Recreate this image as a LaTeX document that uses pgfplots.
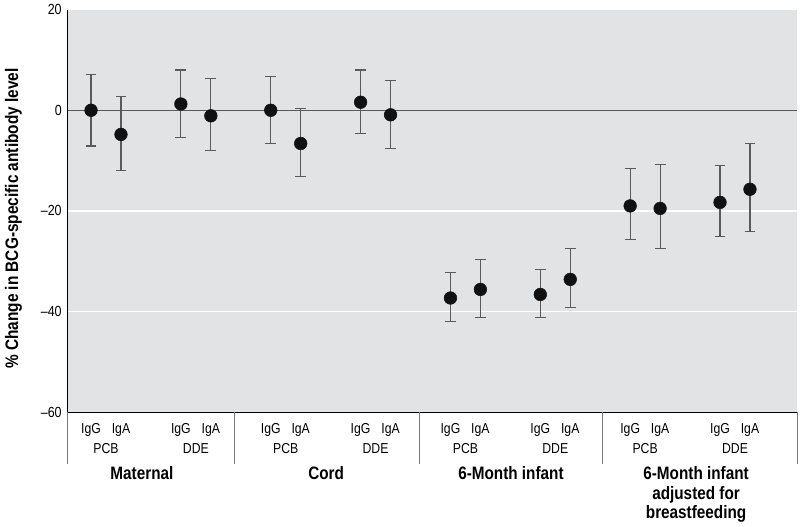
\documentclass[border=0pt]{standalone}
\usepackage{pgfplots}
\pgfplotsset{compat=1.18}
\usepackage{pgfplotstable}
\usepackage{fontspec}
\setmainfont{Liberation Sans}[FakeStretch=0.85]
\definecolor{bgcol}{HTML}{E2E3E5}
\definecolor{barcol}{HTML}{5A5A5A}
\definecolor{sepcol}{HTML}{7A7A7A}
\definecolor{dotcol}{HTML}{111111}

% x: position, y: % change, ep/em: upper and lower error
\pgfplotstableread{
x  y      ep   em
0  0.0    7.2  7.1
1  -4.8   7.6  7.2
3  1.25   6.75 6.65
4  -1.1   7.4  6.9
6  0.0    6.8  6.6
7  -6.6   7.0  6.6
9  1.6    6.4  6.2
10 -0.9   6.9  6.7
12 -37.3  5.1  4.6
13 -35.6  5.9  5.5
15 -36.6  5.0  4.6
16 -33.6  6.2  5.5
18 -19.0  7.4  6.7
19 -19.5  8.8  7.9
21 -18.3  7.3  6.7
22 -15.7  9.1  8.3
}\change

\begin{document}
\begin{tikzpicture}
\begin{axis}[
    scale only axis,
    width=547pt, height=302pt,
    xmin=-0.778, xmax=23.57,
    ymin=-60, ymax=20,
    axis background/.style={fill=bgcol},
    axis line style={draw=none},
    major tick length=0pt,
    ytick={-60,-40,-20,0,20},
    yticklabels={--60,--40,--20,0,20},
    yticklabel style={font=\fontsize{11}{12}\selectfont, xshift=-1pt},
    ymajorgrids=true,
    major grid style={white, line width=1.1pt},
    xtick={0,1,3,4,6,7,9,10,12,13,15,16,18,19,21,22},
    xticklabels={IgG,IgA,IgG,IgA,IgG,IgA,IgG,IgA,IgG,IgA,IgG,IgA,IgG,IgA,IgG,IgA},
    xticklabel style={font=\fontsize{10.8}{12}\selectfont, anchor=base, yshift=-15.75pt},
    ylabel={\% Change in BCG-specific antibody level},
    every axis y label/.style={at={(axis description cs:-0.0743,0.481)}, rotate=90, anchor=center, font=\bfseries\fontsize{13.6}{15}\selectfont},
    clip=false,
]
\draw[barcol, line width=0.8pt] (axis cs:-0.778,0) -- (axis cs:23.57,0);
\draw[black, line width=0.8pt] (rel axis cs:0,1) -- (rel axis cs:0,0) -- (rel axis cs:1,0);
\foreach \s in {-0.778,4.77,10.95,17.06,23.57}{
  \edef\tmp{\noexpand\draw[sepcol, line width=0.6pt] (axis cs:\s,-60) -- ([yshift=-39pt]axis cs:\s,-60);}
  \tmp
}
\addplot[only marks, mark=*, mark size=4.75pt, dotcol,
    error bars/.cd, y dir=both, y explicit,
    error bar style={barcol, line width=0.8pt},
    error mark options={barcol, rotate=90, mark size=4.1pt, line width=0.8pt}]
  table[x=x, y=y, y error plus=ep, y error minus=em] {\change};
\foreach \p/\t in {0.5/PCB,3.5/DDE,6.5/PCB,9.5/DDE,12.5/PCB,15.5/DDE,18.5/PCB,21.5/DDE}{
  \edef\tmp{\noexpand\node[anchor=base, font=\noexpand\fontsize{10.8}{12}\noexpand\selectfont] at ([yshift=-31.3pt]axis cs:\p,-60) {\t};}
  \tmp
}
\node[anchor=base, font=\bfseries\fontsize{13.5}{15}\selectfont] at ([yshift=-50.3pt]axis cs:1.70,-60) {Maternal};
\node[anchor=base, font=\bfseries\fontsize{13.5}{15}\selectfont] at ([yshift=-50.3pt]axis cs:7.85,-60) {Cord};
\node[anchor=base, font=\bfseries\fontsize{13.5}{15}\selectfont] at ([yshift=-50.3pt]axis cs:14.02,-60) {6-Month infant};
\node[anchor=base, font=\bfseries\fontsize{13.5}{15}\selectfont] at ([yshift=-50.3pt]axis cs:20.2,-60) {6-Month infant};
\node[anchor=base, font=\bfseries\fontsize{13.5}{15}\selectfont] at ([yshift=-65.3pt]axis cs:20.2,-60) {adjusted for};
\node[anchor=base, font=\bfseries\fontsize{13.5}{15}\selectfont] at ([yshift=-79.8pt]axis cs:20.2,-60) {breastfeeding};
\end{axis}
\path ([xshift=-50.8pt,yshift=-84.75pt]current axis.south west) rectangle ([xshift=2.25pt,yshift=6.2pt]current axis.north east);
\end{tikzpicture}
\end{document}
